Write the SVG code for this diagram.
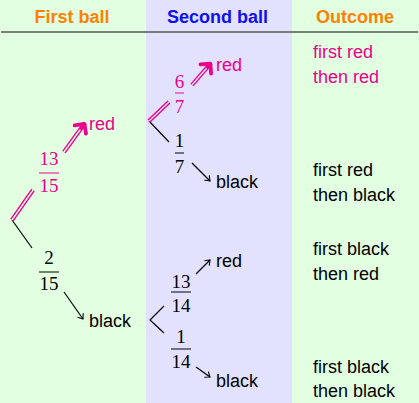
<svg xmlns="http://www.w3.org/2000/svg" width="419" height="403" viewBox="0 0 419 403">
<style>
.hdr{font-family:"Liberation Sans",Arial,sans-serif;font-weight:bold;font-size:18px;text-anchor:middle}
.lbl{font-family:"Liberation Sans",Arial,sans-serif;font-size:18px}
.out{font-family:"Liberation Sans",Arial,sans-serif;font-size:18px}
.frac{font-family:"Liberation Serif","Times New Roman",serif;font-size:19px;text-anchor:middle}
.pink{fill:#ec008c}
.blk{fill:#000}
.bar{stroke-width:1}
.ln{stroke:#000;stroke-width:1.2;fill:none}
.pk{stroke:#ec008c;stroke-width:4.2;fill:none}
.wh{stroke:#e8ffe8;stroke-width:1.4;fill:none}
.whb{stroke:#e8e8ff;stroke-width:1.4;fill:none}
</style>
<defs>
<marker id="pinkhead" markerUnits="userSpaceOnUse" viewBox="-12 -12 24 24" markerWidth="24" markerHeight="24" refX="0" refY="0" orient="auto">
<path d="M-8,-7 L-1,0 L-8,7" fill="none" stroke="#ec008c" stroke-width="3.8" stroke-linejoin="round" stroke-linecap="round"/>
</marker>
<marker id="blkhead" markerUnits="userSpaceOnUse" viewBox="-6 -6 12 12" markerWidth="12" markerHeight="12" refX="0" refY="0" orient="auto">
<path d="M-4.5,-3.5 Q-1.5,-1 0,0 Q-1.5,1 -4.5,3.5" fill="none" stroke="#000" stroke-width="1.1"/>
</marker>
</defs>
<g id="background">
<rect x="0" y="0" width="419" height="403" fill="#e2ffe2"/>
<rect x="146" y="0" width="146" height="403" fill="#e2e2ff"/>
<line x1="1" y1="32" x2="418" y2="32" stroke="#555" stroke-width="1.3"/>
</g>
<g id="headers">
<text class="hdr" x="72" y="23" fill="#ff8000">First ball</text>
<text class="hdr" x="217.5" y="23" fill="#1010ee">Second ball</text>
<text class="hdr" x="355" y="23" fill="#ff8000">Outcome</text>
</g>
<g id="connectors">
<line class="ln" x1="12" y1="220" x2="32" y2="248"/>
<line class="pk" x1="12" y1="220" x2="33" y2="190"/>
<line class="wh" x1="12" y1="220" x2="33" y2="190"/>
<line class="pk" x1="64" y1="152" x2="85" y2="123" marker-end="url(#pinkhead)"/>
<line class="wh" x1="64" y1="152" x2="80.3" y2="129.5"/>
<line class="ln" x1="64" y1="292" x2="83" y2="319" marker-end="url(#blkhead)"/>
<line class="ln" x1="149" y1="121" x2="169" y2="142"/>
<line class="pk" x1="149" y1="121" x2="169" y2="102"/>
<line class="whb" x1="149" y1="121" x2="169" y2="102"/>
<line class="pk" x1="192" y1="85" x2="211" y2="63" marker-end="url(#pinkhead)"/>
<line class="whb" x1="192" y1="85" x2="206.5" y2="68.2"/>
<line class="ln" x1="192" y1="163" x2="210" y2="181" marker-end="url(#blkhead)"/>
<polyline class="ln" points="164,306 150,320 164,333"/>
<line class="ln" x1="196" y1="274" x2="210" y2="260" marker-end="url(#blkhead)"/>
<line class="ln" x1="196" y1="367" x2="210" y2="377" marker-end="url(#blkhead)"/>
</g>
<g id="edge-labels">
<g id="p-13-15" class="pink">
<text class="frac" x="49" y="165">13</text>
<line x1="39" y1="173" x2="59" y2="173" stroke="#ec008c" class="bar"/>
<text class="frac" x="49" y="192">15</text>
</g>
<g id="p-2-15" class="blk">
<text class="frac" x="49" y="264">2</text>
<line x1="39" y1="272" x2="59" y2="272" stroke="#000" class="bar"/>
<text class="frac" x="49" y="290">15</text>
</g>
<g id="p-6-7" class="pink">
<text class="frac" x="179.5" y="88">6</text>
<line x1="175" y1="93" x2="184" y2="93" stroke="#ec008c" class="bar"/>
<text class="frac" x="179.5" y="113">7</text>
</g>
<g id="p-1-7" class="blk">
<text class="frac" x="179.5" y="147">1</text>
<line x1="175" y1="153" x2="184" y2="153" stroke="#000" class="bar"/>
<text class="frac" x="179.5" y="173">7</text>
</g>
<g id="p-13-14" class="blk">
<text class="frac" x="181" y="288">13</text>
<line x1="171" y1="292" x2="191" y2="292" stroke="#000" class="bar"/>
<text class="frac" x="181" y="312">14</text>
</g>
<g id="p-1-14" class="blk">
<text class="frac" x="181" y="343">1</text>
<line x1="171" y1="349" x2="191" y2="349" stroke="#000" class="bar"/>
<text class="frac" x="181" y="368">14</text>
</g>
</g>
<g id="node-first-red"><text class="lbl pink" x="89" y="130">red</text></g>
<g id="node-first-black"><text class="lbl blk" x="89" y="327">black</text></g>
<g id="node-rr"><text class="lbl pink" x="216" y="71">red</text></g>
<g id="node-rb"><text class="lbl blk" x="216" y="188">black</text></g>
<g id="node-br"><text class="lbl blk" x="216" y="267">red</text></g>
<g id="node-bb"><text class="lbl blk" x="216" y="387">black</text></g>
<g id="outcome-rr" class="pink">
<text class="out" x="313" y="58">first red</text>
<text class="out" x="313" y="83">then red</text>
</g>
<g id="outcome-rb" class="blk">
<text class="out" x="313" y="176">first red</text>
<text class="out" x="313" y="201">then black</text>
</g>
<g id="outcome-br" class="blk">
<text class="out" x="313" y="255">first black</text>
<text class="out" x="313" y="280">then red</text>
</g>
<g id="outcome-bb" class="blk">
<text class="out" x="313" y="373">first black</text>
<text class="out" x="313" y="397">then black</text>
</g>
</svg>
